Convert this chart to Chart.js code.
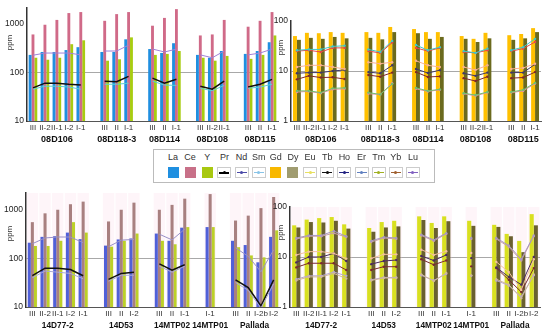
<!DOCTYPE html>
<html>
<head>
<meta charset="utf-8">
<script src="https://cdn.jsdelivr.net/npm/chart.js@4/dist/chart.umd.min.js"></script>
<style>
  body { margin: 0; background: #fff; font-family: "Liberation Sans", Arial, sans-serif; }
  #wrap { position: relative; width: 550px; height: 331px; overflow: hidden; }
  .panel { position: absolute; }
  .ppm { position: absolute; font-size: 8px; color: #333; transform: rotate(-90deg);
         font-family: "Liberation Sans Narrow", "Liberation Sans", sans-serif; }
  #legend { position: absolute; left: 153px; top: 149px; width: 282px; height: 34px; border: 1px solid #bbb;
            box-sizing: border-box; background: #fff; z-index: 5; }
  .lab { position: absolute; top: 2px; width: 18px; text-align: center; font-size: 9px; color: #333; }
  .sw { position: absolute; top: 17px; box-sizing: border-box; }
</style>
</head>
<body>
<div id="wrap">
  <div class="panel" style="left:0;top:0;width:280px;height:145px"><canvas id="tl"></canvas></div>
  <div class="panel" style="left:263px;top:0;width:287px;height:145px"><canvas id="tr"></canvas></div>
  <div class="panel" style="left:0;top:185px;width:282px;height:146px"><canvas id="bl"></canvas></div>
  <div class="panel" style="left:262px;top:185px;width:288px;height:146px"><canvas id="br"></canvas></div>
  <div class="ppm" style="left:2px;top:38px">ppm</div>
  <div class="ppm" style="left:273px;top:43px">ppm</div>
  <div class="ppm" style="left:2px;top:229px">ppm</div>
  <div class="ppm" style="left:273px;top:228px">ppm</div>
  <div id="legend"></div>
</div>
<script>
// samples per locality
const topSamples = [["III", "II-2", "II-1", "I-2", "I-1"], ["III", "II", "I-1"], ["III", "II", "I-1"], ["III", "II-2", "II-1"], ["III", "II", "I-1"]];
const topGroups = ["08D106", "08D118-3", "08D114", "08D108", "08D115"];
const botSamples = [["III", "II-2", "II-1", "I-2", "I-1"], ["III", "II", "I-2"], ["III", "II", "I-1"], ["I-1"], ["III", "II", "I-2b", "I-2"]];
const botGroups = ["14D77-2", "14D53", "14MTP02", "14MTP01", "Pallada"];

// top row, light REE (ppm)
const tLa = [[229, 263, 263, 288, 330], [263, 263, 479], [302, 251, 398], [229, 200, 275], [240, 275, 417]];
const tCe = [[603, 955, 1200, 1660, 1740], [1150, 1580, 1740], [912, 1320, 2000], [575, 603, 1200], [870, 1150, 1740]];
const tY = [[200, 182, 200, 380, 457], [174, 186, 525], [229, 240, 275], [200, 174, 218], [190, 229, 575]];
const tPr = [[48, 60, 60, 57, 55], [66, 64, 83], [76, 60, 72], [52, 45, 66], [50, 57, 72]];
const tNd = [[225, 250, 250, 250, 229], [275, 275, 363], [302, 263, 300], [229, 200, 275], [229, 250, 302]];
const tSm = [[45, 52, 52, 50, 45], [57, 57, 60], [66, 55, 54], [47, 42, 54], [47, 50, 57]];

// top row, heavy REE (ppm)
const tGd = [[50, 58, 57, 60, 58], [60, 58, 76], [69, 60, 60], [50, 44, 58], [52, 55, 72]];
const tDy = [[42, 46, 44, 48, 45], [46, 43, 60], [57, 44, 48], [44, 38, 45], [42, 45, 60]];
const tEr = [[26, 27, 27, 31, 32], [27, 24, 40], [33, 26, 30], [25, 23, 28], [26, 30, 44]];
const tYb = [[25, 26, 24, 29, 29], [25, 23, 37], [29, 25, 29], [24, 23, 26], [25, 28, 38]];
const tEu = [[12, 13, 13, 12, 11], [15, 14, 15], [16, 13, 12], [12, 10.5, 13], [11, 11.5, 14]];
const tTb = [[9, 9.3, 9.3, 10, 10.5], [9.5, 9, 13], [11, 9.1, 10.4], [9, 8, 9.3], [9.3, 9.3, 13.6]];
const tHo = [[6.8, 8, 7.4, 7.5, 6.9], [8.3, 7.7, 9.3], [9.5, 7.6, 7.8], [7.2, 6.3, 7.7], [7.2, 7.4, 9.5]];
const tTm = [[4, 4, 3.7, 4.5, 4.6], [3.7, 3.4, 5.5], [4.6, 4, 4.3], [3.6, 3.3, 3.8], [3.8, 4.2, 5.8]];
const tLu = [[3.8, 3.9, 3.6, 4.3, 4.4], [3.5, 3.4, 5.7], [4.4, 3.9, 4.2], [3.5, 3.2, 3.7], [3.7, 4, 5.6]];

// bottom row, light REE (ppm)
const bLa = [[210, 277, 286, 339, 249], [183, 245, 257], [324, 230, 428], [440], [230, 188, 83, 277]];
const bCe = [[556, 844, 1000, 1300, 1470], [575, 1000, 1400], [1000, 1260, 1690], [2100], [600, 757, 1080, 1830]];
const bY = [[180, 180, 230, 556, 339], [174, 230, 324], [230, 195, 440], [440], [170, 115, 105, 377]];
const bPr = [[44, 63, 63, 59, 44], [37, 49, 52], [77, 57, 74], [56], [36, 25, 10.5, 36]];
const bNd = [[200, 263, 275, 275, 210], [174, 237, 245], [314, 240, 400], [420], [165, 110, 53, 150]];
const bSm = [[40, 55, 52, 49, 38], [34, 45, 45], [69, 52, 69], [56], [32, 22, 9.5, 30]];

// bottom row, heavy REE (ppm)
const bGd = [[43, 56, 60, 63, 45], [38, 50, 53], [65, 48, 65], [53], [44, 29, 21, 72]];
const bDy = [[39, 50, 49, 53, 37], [32, 39, 41], [55, 38, 52], [42], [40, 26, 12.5, 43]];
const bEr = [[24, 27, 27, 33, 26], [21, 25, 24], [28, 22, 30], [24], [24, 17, 9, 27]];
const bYb = [[23, 26, 26, 30, 25], [20, 24, 23], [27, 21, 29], [23], [23, 16, 8.5, 26]];
const bEu = [[11, 12.8, 12.8, 11.8, 9.3], [9.4, 11.3, 11.3], [14, 11, 13], [12], [8, 5, 2.2, 9]];
const bTb = [[7.8, 10, 10, 11.8, 8.3], [7.2, 8.3, 8.7], [10.5, 8.5, 11], [9.5], [6.2, 4, 2.8, 10]];
const bHo = [[6.2, 7.5, 7.5, 7.5, 5.5], [5.5, 6.4, 6.4], [9, 7, 8.5], [6.5], [6, 3.5, 2, 6]];
const bTm = [[3.4, 4, 4, 4.7, 3.7], [3.4, 3.8, 3.8], [4.5, 3.3, 4.8], [4.3], [3.6, 2.8, 1.5, 4.5]];
const bLu = [[3.6, 4.2, 4.2, 5, 4.2], [3.5, 3.9, 3.9], [4.3, 3.4, 4.6], [4.2], [3.4, 2.7, 1.6, 4.3]];

const legendNames = ["La", "Ce", "Y", "Pr", "Nd", "Sm", "Gd", "Dy", "Eu", "Tb", "Ho", "Er", "Tm", "Yb", "Lu"];
const legendKinds = ["bar", "bar", "bar", "line", "line", "line", "bar", "bar", "line", "line", "line", "line", "line", "line", "line"];
const legendColors = ["#1f8fe0", "#c87088", "#a8c810", "#000000", "#4a4aa8", "#88c4e8", "#f8b800", "#a09c70",
  "#e8e060", "#111111", "#202080", "#6080c0", "#a0b020", "#a06030", "#8060c0"];

const NARROW = "'Liberation Sans Narrow', 'Liberation Sans', Arial, sans-serif";
Chart.defaults.font.family = "'Liberation Sans', Arial, sans-serif";
Chart.defaults.color = "#222";

// join groups, one empty slot between them
function flat(groups) {
  let out = [];
  groups.forEach(function (g, i) {
    if (i > 0) out.push(null);
    out.push(...g);
  });
  return out;
}

function centersOf(samples) {
  let pos = 0, c = [];
  for (const g of samples) {
    c.push(pos + (g.length - 1) / 2);
    pos += g.length + 1;
  }
  return c;
}

// locality names under the sample ticks, placed with the x scale
const groupLabels = {
  id: "groupLabels",
  afterDraw(chart, args, opts) {
    const x = chart.scales.x;
    const ctx = chart.ctx;
    ctx.save();
    ctx.font = "bold " + opts.size + "px 'Liberation Sans', Arial, sans-serif";
    ctx.fillStyle = "#111";
    ctx.textAlign = "center";
    ctx.textBaseline = "middle";
    opts.centers.forEach(function (c, i) {
      ctx.fillText(opts.names[i], x.getPixelForValue(c), x.bottom + 6.5);
    });
    ctx.restore();
  }
};

function makePanel(id, p) {
  const labels = flat(p.samples).map(v => (v === null ? "" : v));
  const centers = centersOf(p.samples);
  let datasets = [];
  if (p.band) {
    datasets.push({
      type: "bar", data: flat(p.samples).map(v => (v === null ? null : p.yMax)),
      backgroundColor: p.band, grouped: false, categoryPercentage: 0.9, barPercentage: 1, order: 5
    });
  }
  for (const b of p.bars) {
    datasets.push({
      type: "bar", label: b.label, data: flat(b.data), backgroundColor: b.color,
      categoryPercentage: p.catPct, barPercentage: 1, order: 2
    });
  }
  for (const l of p.lines) {
    datasets.push({
      type: "line", label: l.label, data: flat(l.data), borderColor: l.color, backgroundColor: l.color,
      borderWidth: l.width || 1, pointRadius: p.dot, pointBorderWidth: 0, tension: 0, spanGaps: false, order: 1
    });
  }
  new Chart(document.getElementById(id), {
    type: "bar",
    data: { labels: labels, datasets: datasets },
    options: {
      responsive: true, maintainAspectRatio: false, animation: false, devicePixelRatio: 1,
      layout: { padding: p.pad },
      plugins: {
        legend: { display: false }, tooltip: { enabled: false },
        groupLabels: { centers: centers, names: p.groups, size: p.groupSize }
      },
      scales: {
        x: {
          offset: true,
          grid: { display: false, drawTicks: false },
          border: { color: "#555", width: 1 },
          ticks: { autoSkip: false, maxRotation: 0, padding: 2, font: { size: 8, family: NARROW }, color: "#333" },
          afterFit: ax => { ax.height = 12; }
        },
        y: {
          type: "logarithmic", min: p.yMin, max: p.yMax, bounds: "data",
          grid: {
            drawTicks: false,
            color: ctx => (ctx.tick && ctx.tick.value === p.mid ? "#a8a8a8" : "rgba(0,0,0,0)")
          },
          border: { color: "#333", width: 1.5 },
          ticks: { padding: 3, font: { size: 8.5, family: NARROW }, color: "#222", callback: v => String(v) },
          afterBuildTicks: ax => { ax.ticks = p.yTicks.map(v => ({ value: v })); },
          afterFit: ax => { ax.width = p.yWidth; }
        }
      }
    },
    plugins: [groupLabels]
  });
}

makePanel("tl", {
  samples: topSamples, groups: topGroups, groupSize: 9, yMin: 10, yMax: 2100, yTicks: [10, 100, 1000], mid: 100,
  yWidth: 27, pad: { top: 5, right: 2, left: 0, bottom: 12 }, catPct: 0.72, dot: 0,
  bars: [
    { label: "La", data: tLa, color: "#1f8fe0" },
    { label: "Ce", data: tCe, color: "#d06a88" },
    { label: "Y", data: tY, color: "#a8cc10" }
  ],
  lines: [
    { label: "Nd", data: tNd, color: "#a080d8" },
    { label: "Sm", data: tSm, color: "#5cd0d0" },
    { label: "Pr", data: tPr, color: "#111111", width: 1.5 }
  ]
});

makePanel("tr", {
  samples: topSamples, groups: topGroups, groupSize: 9, yMin: 1, yMax: 100, yTicks: [1, 10, 100], mid: 10,
  yWidth: 28, pad: { top: 21, right: 9, left: 0, bottom: 12 }, catPct: 0.66, dot: 1.2,
  bars: [
    { label: "Gd", data: tGd, color: "#ffc000" },
    { label: "Dy", data: tDy, color: "#6b6a1e" }
  ],
  lines: [
    { label: "Er", data: tEr, color: "#40c8c8" },
    { label: "Yb", data: tYb, color: "#e84848" },
    { label: "Eu", data: tEu, color: "#f8b090" },
    { label: "Tb", data: tTb, color: "#403868" },
    { label: "Ho", data: tHo, color: "#802828" },
    { label: "Tm", data: tTm, color: "#70c070" },
    { label: "Lu", data: tLu, color: "#e090a0" }
  ]
});

makePanel("bl", {
  samples: botSamples, groups: botGroups, groupSize: 8.3, yMin: 10, yMax: 2200, yTicks: [10, 100, 1000], mid: 100,
  yWidth: 26, pad: { top: 5, right: 2, left: 0, bottom: 12 }, catPct: 0.72, dot: 0,
  band: "rgba(250, 205, 225, 0.2)",
  bars: [
    { label: "La", data: bLa, color: "#5060d8" },
    { label: "Ce", data: bCe, color: "#a88080" },
    { label: "Y", data: bY, color: "#bcd028" }
  ],
  lines: [
    { label: "Nd", data: bNd, color: "#9890c8" },
    { label: "Sm", data: bSm, color: "#a8a8d8" },
    { label: "Pr", data: bPr, color: "#111111", width: 1.5 }
  ]
});

makePanel("br", {
  samples: botSamples, groups: botGroups, groupSize: 8.3, yMin: 1, yMax: 100, yTicks: [1, 10, 100], mid: 10,
  yWidth: 28, pad: { top: 22, right: 10, left: 0, bottom: 12 }, catPct: 0.66, dot: 1.2,
  band: "rgba(250, 205, 225, 0.2)",
  bars: [
    { label: "Gd", data: bGd, color: "#d8e020" },
    { label: "Dy", data: bDy, color: "#6a6030" }
  ],
  lines: [
    { label: "Er", data: bEr, color: "#a898c0" },
    { label: "Yb", data: bYb, color: "#c8a0a8" },
    { label: "Eu", data: bEu, color: "#f4c0a0" },
    { label: "Tb", data: bTb, color: "#4a2a60" },
    { label: "Ho", data: bHo, color: "#7a2a30" },
    { label: "Tm", data: bTm, color: "#d0b898" },
    { label: "Lu", data: bLu, color: "#b8a8d0" }
  ]
});

// legend box
function renderLegend() {
  const box = document.getElementById("legend");
  legendNames.forEach(function (name, i) {
    const cx = 19 + i * 17.14;
    const lab = document.createElement("div");
    lab.className = "lab";
    lab.style.left = (cx - 9) + "px";
    lab.textContent = name;
    box.appendChild(lab);
    const sw = document.createElement("div");
    sw.className = "sw";
    if (legendKinds[i] === "bar") {
      sw.style.cssText += "left:" + (cx - 5.5) + "px;width:11px;height:11px;background:" + legendColors[i] + ";";
    } else {
      const lw = name === "Pr" ? 2 : 1;
      sw.style.cssText += "left:" + (cx - 7) + "px;width:14px;height:11px;border:1px solid #ccc;background:#fff;";
      sw.innerHTML = '<div style="position:absolute;left:1px;right:1px;top:4px;height:' + lw + 'px;background:' +
        legendColors[i] + '"></div><div style="position:absolute;left:4.5px;top:3px;width:3px;height:3px;border-radius:50%;background:' +
        legendColors[i] + '"></div>';
    }
    box.appendChild(sw);
  });
}
renderLegend();
</script>
</body>
</html>
